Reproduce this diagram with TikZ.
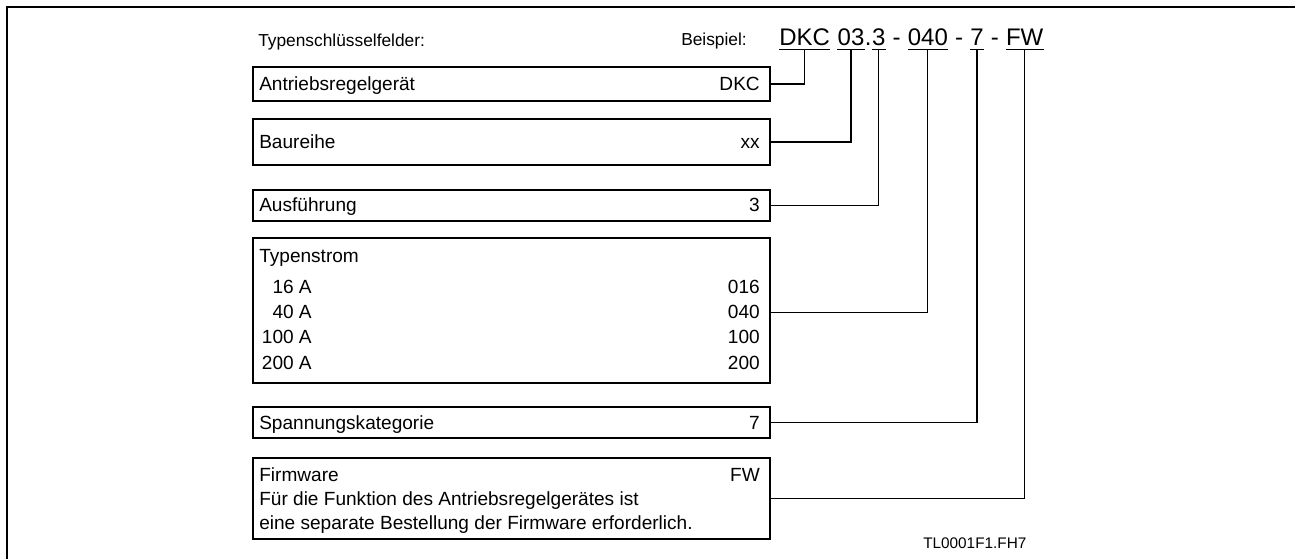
\documentclass[tikz,border=0pt]{standalone}
\usepackage{fontspec}
\setmainfont{Liberation Sans}
\usetikzlibrary{fit}
\begin{document}
\begin{tikzpicture}[x=0.75pt,y=-0.75pt,
  box/.style={draw, line width=0.8pt, inner sep=0pt},
  txt/.style={inner sep=0pt, font=\fontsize{14.3}{17}\selectfont},
  head/.style={inner sep=0pt, font=\fontsize{13}{15}\selectfont},
  code/.style={inner sep=0pt, anchor=base west, font=\fontsize{18}{21}\selectfont},
  small/.style={inner sep=0pt, font=\fontsize{11.5}{14}\selectfont},
  link/.style={line width=0.8pt},
  ]
\useasboundingbox (0,0) rectangle (1295,559);
\draw[line width=1.9pt, line join=miter] (7,559) -- (7,7) -- (1295,7);

% header
\node[head, anchor=base west] (hdr) at (258,47) {Typenschlüsselfelder:};
\node[head, anchor=base west] (bsp) at (681,46) {Beispiel:};
\node[code] (kDKC) at (779,46) {DKC};
\node[code] (s1) at (kDKC.base east) {\ \null};
\node[code] (k03) at (s1.base east) {03};
\node[code] (s2) at (k03.base east) {.};
\node[code] (k3) at (s2.base east) {3};
\node[code] (s3) at (k3.base east) {\ -\ \null};
\node[code] (k040) at (s3.base east) {040};
\node[code] (s4) at (k040.base east) {\ -\ \null};
\node[code] (k7) at (s4.base east) {7};
\node[code] (s5) at (k7.base east) {\ -\ \null};
\node[code] (kFW) at (s5.base east) {FW};
\foreach \k in {kDKC,k03,k3,k040,k7,kFW}
  \draw[link] ([yshift=-2.6pt]\k.base west) -- ([yshift=-2.6pt]\k.base east);

% boxes
\node[box, fit={(253,67) (770,101)}] (b1) {};
\node[txt, anchor=base west] at (259,91) {Antriebsregelgerät};
\node[txt, anchor=base east] (v1) at (760,91) {DKC};

\node[box, line width=1.3pt, fit={(253,119) (770,165)}] (b2) {};
\node[txt, anchor=base west] at (259,149) {Baureihe};
\node[txt, anchor=base east] (v2) at (760,149) {xx};

\node[box, fit={(253,190) (770,221)}] (b3) {};
\node[txt, anchor=base west] at (259,212) {Ausführung};
\node[txt, anchor=base east] (v3) at (760,212) {3};

\node[box, fit={(253,238) (770,383)}] (b4) {};
\node[txt, anchor=base west] at (259,263) {Typenstrom};
\node[txt, anchor=base east] at (312,294) {16 A};
\node[txt, anchor=base east] at (312,319) {40 A};
\node[txt, anchor=base east] at (312,344) {100 A};
\node[txt, anchor=base east] at (312,369) {200 A};
\node[txt, anchor=base east] at (760,294) {016};
\node[txt, anchor=base east] (v4) at (760,319) {040};
\node[txt, anchor=base east] at (760,344) {100};
\node[txt, anchor=base east] at (760,369) {200};

\node[box, fit={(253,407) (770,438)}] (b5) {};
\node[txt, anchor=base west] at (259,429) {Spannungskategorie};
\node[txt, anchor=base east] (v5) at (760,429) {7};

\node[box, fit={(253,458) (770,539)}] (b6) {};
\node[txt, anchor=base west] at (259,481) {Firmware};
\node[txt, anchor=base east] (v6) at (760,481) {FW};
\node[txt, anchor=base west] at (259,505) {Für die Funktion des Antriebsregelgerätes ist};
\node[txt, anchor=base west] at (259,529) {eine separate Bestellung der Firmware erforderlich.};

\node[small, anchor=base west] (ref) at (923,548) {TL0001F1.FH7};

% connectors
\draw[link] (b1.east) -| ([yshift=-2.6pt]kDKC.base);
\draw[link] (b2.east) -| ([yshift=-2.6pt]k03.base);
\draw[link] (b3.east) -| ([yshift=-2.6pt]k3.base);
\draw[link] (v4 -| b4.east) -| ([yshift=-2.6pt]k040.base);
\draw[link] (b5.east) -| ([yshift=-2.6pt]k7.base);
\draw[link] (b6.east) -| ([yshift=-2.6pt]kFW.base);
\end{tikzpicture}
\end{document}
